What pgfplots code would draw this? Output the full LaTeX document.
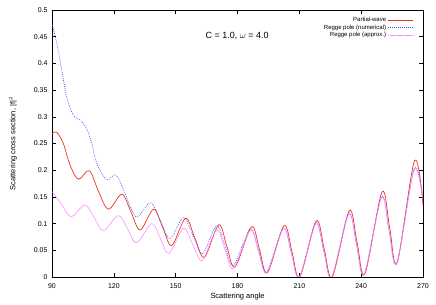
\documentclass[border=0pt]{standalone}
\usepackage{fontspec}
\setmainfont{Liberation Sans}
\usepackage{pgfplots}
\pgfplotsset{compat=1.18}
\definecolor{pwred}{RGB}{240,50,30}
\definecolor{rpblue}{RGB}{60,80,255}
\definecolor{rppink}{RGB}{255,130,255}
\begin{document}
\begin{tikzpicture}
\useasboundingbox (-52bp,-28bp) rectangle (384bp,277bp);
\begin{axis}[
  at={(0,0)}, anchor=south west,
  scale only axis, width=371bp, height=267bp,
  xmin=90, xmax=270, ymin=0, ymax=0.5,
  xtick={90,120,...,270},
  ytick={0,0.05,...,0.5},
  yticklabels={0,0.05,0.1,0.15,0.2,0.25,0.3,0.35,0.4,0.45,0.5},
  tick align=inside, major tick length=4bp,
  tick style={black, line width=0.5bp},
  axis line style={black, line width=0.6bp},
  /pgf/number format/assume math mode=true,
  ticklabel style={font=\fontsize{7}{8}\selectfont},
  xticklabel style={yshift=-3.5bp},
  yticklabel style={xshift=-1bp},
  xlabel={Scattering angle},
  ylabel={Scattering cross section, |f|$^2$},
  label style={font=\fontsize{7.5}{9}\selectfont},
  xlabel style={at={(axis description cs:0.5,0)}, anchor=center, yshift=-20bp},
  ylabel style={at={([xshift=-39bp]axis description cs:0,0.5)}, anchor=center},
  legend plot pos=right,
  legend cell align=right,
  legend image code/.code={\draw[#1] (0bp,0bp) -- (25bp,0bp);},
  legend style={draw=none, fill=none, at={(1,1)}, anchor=north east, xshift=-9bp, yshift=-5bp,
    font=\fontsize{6}{7}\selectfont, row sep=-2.2pt, inner sep=0pt},
]
\addplot[color=pwred, line width=0.7bp, smooth, tension=0.55] coordinates {
(90,0.268) (92.3,0.271) (95.5,0.250) (98.7,0.210) (102.8,0.183) (108.1,0.199)
(112.6,0.160) (117.4,0.127) (123.9,0.155) (128.3,0.122) (132.8,0.088) (139.3,0.127)
(143.7,0.093) (148.1,0.059) (154.8,0.110) (159.3,0.073) (163.9,0.037) (170.9,0.098)
(174.8,0.058) (178.8,0.019) (186.8,0.094) (190.7,0.051) (194.5,0.008) (202.6,0.096)
(206.4,0.048) (210.2,0.0) (218.2,0.105) (222.1,0.052) (226.0,0.0) (234.2,0.124)
(238.0,0.065) (241.8,0.006) (250.1,0.159) (253.8,0.093) (257.5,0.027) (265.9,0.218)
(270,0.135)};
\addlegendentry{Partial-wave}
\addplot[color=rpblue, line width=0.7bp, dash pattern=on 0.8bp off 1.2bp, smooth, tension=0.55] coordinates {
(90,0.475) (92.3,0.438) (94.7,0.388) (97.1,0.338) (100.3,0.303) (103.6,0.294)
(106.8,0.278) (109.3,0.250) (111.7,0.213) (116.5,0.182) (121.0,0.191) (125.4,0.157)
(128.7,0.125) (131.7,0.113) (137.9,0.139) (142.6,0.105) (147.3,0.072) (153.7,0.111)
(158.4,0.078) (163.1,0.044) (169.8,0.096) (173.9,0.059) (178.0,0.022) (186.2,0.090)
(190.2,0.050) (194.2,0.010) (202.2,0.092) (206.1,0.046) (210.0,0.0) (217.9,0.101)
(221.8,0.050) (225.7,0.0) (233.9,0.119) (237.7,0.062) (241.5,0.006) (249.8,0.150)
(253.5,0.088) (257.3,0.027) (265.7,0.203) (270,0.145)};
\addlegendentry{Regge pole (numerical)}
\addplot[color=rppink, line width=0.7bp, dash pattern=on 0.7bp off 0.45bp, smooth, tension=0.55] coordinates {
(90,0.160) (94.5,0.137) (99.3,0.113) (106.0,0.135) (110.5,0.111) (115.0,0.087)
(122.2,0.115) (126.7,0.090) (131.1,0.064) (138.4,0.100) (142.6,0.072) (146.8,0.044)
(153.7,0.091) (158.3,0.061) (162.9,0.031) (169.8,0.088) (173.9,0.052) (178.0,0.016)
(186.2,0.087) (190.2,0.047) (194.2,0.008) (202.2,0.090) (206.1,0.045) (210.0,0.0)
(217.9,0.099) (221.8,0.050) (225.7,0.0) (233.9,0.117) (237.7,0.061) (241.5,0.005)
(249.8,0.148) (253.5,0.087) (257.3,0.026) (265.7,0.200) (270,0.142)};
\addlegendentry{Regge pole (approx.)}
\node[font=\fontsize{9}{10}\selectfont] at (axis cs:179.8,0.451) {C = 1.0, $\omega$ = 4.0};
\end{axis}
\end{tikzpicture}
\end{document}
